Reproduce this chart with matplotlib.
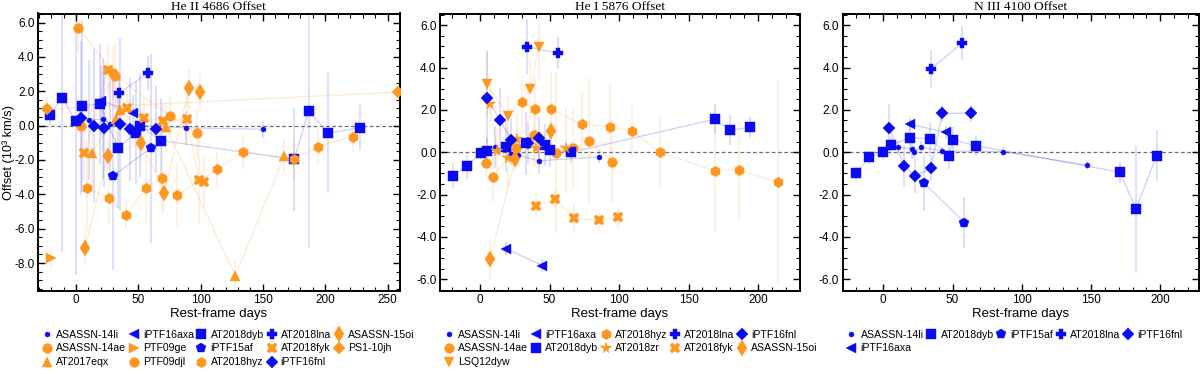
import matplotlib
matplotlib.use('Agg')
import matplotlib.pyplot as plt
from matplotlib.lines import Line2D
from matplotlib.ticker import MultipleLocator, FormatStrFormatter

# ---------------- Panel 1 : He II 4686 ----------------
p1_14li_t = [10.3, 21.4, 27.5, 88.6, 150.3]
p1_14li_v = [0.33, 0.39, 0.11, -0.13, -0.21]
p1_14li_e = [3.5, 3.5, 3.0, 1.0, 0.5]
p1_14ae_t = [4.0, 31.5, 75.4, 96.9]
p1_14ae_v = [-0.02, 2.91, 0.56, -0.44]
p1_14ae_e = [1.5, 2.0, 1.2, 1.5]
p1_17eqx_t = [12.6, 31.8, 35.6, 72.0, 127.9, 167.2]
p1_17eqx_v = [-1.57, 0.39, 0.91, -0.06, -8.75, -1.76]
p1_17eqx_e = [2.0, 1.5, 1.5, 1.5, 1.0, 1.0]
p1_16axa_t = [20.0, 45.5]
p1_16axa_v = [1.46, 0.76]
p1_16axa_e = [2.0, 1.0]
p1_09ge_t = [-20.3]
p1_09ge_v = [-7.72]
p1_09ge_e = [0.6]
p1_09djl_t = [1.9, 30.0]
p1_09djl_v = [5.7, 3.09]
p1_09djl_e = [1.5, 1.5]
p1_dyb_t = [-20.9, -11.0, -0.3, 5.1, 19.3, 33.5, 48.2, 51.4, 68.2, 175.0, 186.7, 202.5, 228.0]
p1_dyb_v = [0.62, 1.63, 0.29, 1.15, 1.26, -1.28, -0.44, 0.0, -0.87, -1.96, 0.86, -0.44, -0.12]
p1_dyb_e = [0.6, 9.0, 9.0, 5.0, 3.5, 3.5, 3.0, 3.0, 2.5, 3.0, 8.0, 3.5, 1.3]
p1_15af_t = [30.0, 60.0]
p1_15af_v = [-2.91, -1.32]
p1_15af_e = [5.5, 5.5]
p1_hyz_t = [9.1, 26.5, 39.9, 56.2, 68.8, 81.3, 113.4, 133.8, 175.0, 194.0, 222.6]
p1_hyz_v = [-3.65, -4.23, -5.2, -3.65, -3.06, -4.04, -2.54, -1.51, -1.96, -1.22, -0.64]
p1_hyz_e = [2.5, 1.5, 0.8, 2.0, 2.0, 1.8, 1.0, 1.0, 1.2, 1.0, 0.9]
p1_lna_t = [34.5, 57.5]
p1_lna_v = [1.89, 3.05]
p1_lna_e = [1.0, 1.0]
p1_fyk_t = [6.4, 25.4, 40.7, 54.8, 69.6, 88.8, 98.7, 102.7]
p1_fyk_v = [-1.61, 3.24, 1.0, 0.43, 0.29, 0.39, -3.16, -3.26]
p1_fyk_e = [1.5, 1.5, 1.2, 1.2, 1.0, 1.5, 2.5, 1.5]
p1_fnl_t = [4.0, 14.7, 22.7, 35.3, 43.3, 64.0]
p1_fnl_v = [0.45, -0.02, -0.12, 0.08, -0.21, -0.21]
p1_fnl_e = [4.5, 4.5, 3.5, 5.0, 3.0, 2.5]
p1_15oi_t = [7.2, 25.4, 52.5, 70.9, 90.7, 99.8]
p1_15oi_v = [-7.14, -1.76, -0.99, -3.9, 2.18, 1.95]
p1_15oi_e = [1.0, 1.0, 1.2, 1.0, 1.2, 1.2]
p1_10jh_t = [-23.0, 258.0]
p1_10jh_v = [0.95, 1.95]
p1_10jh_e = [0.7, 0.7]

# ---------------- Panel 2 : He I 5876 ----------------
p2_14li_t = [10.7, 22.1, 27.4, 42.1, 85.7]
p2_14li_v = [0.26, -0.08, -0.13, -0.41, -0.21]
p2_14li_e = [1.0, 0.5, 0.5, 0.6, 0.3]
p2_14ae_t = [4.3, 9.3, 26.2, 38.8, 54.8, 66.7, 78.6, 95.2]
p2_14ae_v = [-0.52, -1.17, 0.2, 0.82, -0.02, 0.2, 0.52, -0.45]
p2_14ae_e = [0.6, 1.2, 1.0, 1.5, 3.8, 2.0, 3.0, 2.0]
p2_dyw_t = [4.8, 20.2, 36.2, 42.1]
p2_dyw_v = [3.21, 1.71, 2.97, 4.98]
p2_dyw_e = [1.5, 1.0, 1.5, 1.5]
p2_16axa_t = [19.0, 44.8]
p2_16axa_v = [-4.56, -5.35]
p2_16axa_e = [0.3, 0.3]
p2_dyb_t = [-19.5, -9.5, 0.5, 5.2, 19.0, 33.3, 46.9, 50.5, 65.7, 169.0, 179.8, 194.5]
p2_dyb_v = [-1.1, -0.65, -0.05, 0.05, 0.26, 0.42, 0.34, 0.12, 0.0, 1.56, 1.05, 1.18]
p2_dyb_e = [0.6, 0.6, 0.3, 0.6, 1.2, 1.5, 1.0, 0.8, 0.5, 0.7, 0.7, 0.5]
p2_hyz_t = [30.2, 39.3, 51.2, 73.1, 93.6, 109.5, 129.3, 169.0, 186.2, 214.3]
p2_hyz_v = [2.39, 2.04, 2.03, 1.33, 1.21, 1.02, 0.0, -0.88, -0.83, -1.42]
p2_hyz_e = [1.2, 1.5, 1.8, 1.5, 2.0, 1.3, 1.6, 2.9, 2.3, 4.8]
p2_zr_t = [7.1, 12.2, 20.2, 26.7, 40.2, 61.5]
p2_zr_v = [2.26, 0.08, -0.26, 0.61, 0.19, 0.18]
p2_zr_e = [1.0, 1.0, 1.5, 1.2, 1.0, 2.0]
p2_lna_t = [33.8, 56.4]
p2_lna_v = [4.98, 4.67]
p2_lna_e = [1.3, 0.75]
p2_fyk_t = [40.0, 54.1, 67.9, 85.7, 99.3]
p2_fyk_v = [-2.53, -2.22, -3.11, -3.22, -3.07]
p2_fyk_e = [0.6, 0.5, 0.7, 0.5, 0.5]
p2_fnl_t = [4.8, 14.3, 22.6, 34.5, 42.1]
p2_fnl_v = [2.58, 1.52, 0.57, 0.45, 0.67]
p2_fnl_e = [2.2, 1.5, 1.0, 1.0, 1.0]
p2_15oi_t = [7.1, 25.5, 51.2]
p2_15oi_v = [-5.05, -0.3, 1.0]
p2_15oi_e = [1.0, 0.6, 0.5]

# ---------------- Panel 3 : N III 4100 ----------------
p3_14li_t = [10.4, 20.5, 22.4, 27.2, 42.6, 86.6, 146.8]
p3_14li_v = [0.24, 0.16, 0.03, 0.24, 0.06, 0.03, -0.6]
p3_14li_e = [0.3, 0.5, 0.3, 0.3, 0.2, 0.2, 0.2]
p3_dyb_t = [-19.9, -10.1, 0.0, 5.3, 19.3, 33.7, 47.4, 50.5, 66.7, 170.9, 182.5, 197.4]
p3_dyb_v = [-0.99, -0.24, 0.0, 0.34, 0.69, 0.63, -0.17, 0.58, 0.31, -0.94, -2.69, -0.16]
p3_dyb_e = [0.3, 0.3, 0.3, 0.4, 0.8, 0.8, 0.6, 0.6, 0.5, 0.5, 3.0, 1.2]
p3_15af_t = [29.6, 58.5]
p3_15af_v = [-1.46, -3.32]
p3_15af_e = [1.3, 1.2]
p3_lna_t = [34.4, 56.6]
p3_lna_v = [3.93, 5.14]
p3_lna_e = [0.9, 0.8]
p3_fnl_t = [4.3, 14.9, 22.9, 34.4, 42.6, 63.1]
p3_fnl_v = [1.16, -0.65, -1.12, -0.76, 1.84, 1.84]
p3_fnl_e = [1.1, 1.0, 0.8, 0.6, 0.4, 0.4]
p3_16axa_t = [19.3, 45.0]
p3_16axa_v = [1.32, 0.94]
p3_16axa_e = [0.3, 0.3]

titles = ['He II 4686 Offset', 'He I 5876 Offset', 'N III 4100 Offset']

panel1 = [('ASASSN-14li', p1_14li_t, p1_14li_v, p1_14li_e),
          ('ASASSN-14ae', p1_14ae_t, p1_14ae_v, p1_14ae_e),
          ('AT2017eqx', p1_17eqx_t, p1_17eqx_v, p1_17eqx_e),
          ('iPTF16axa', p1_16axa_t, p1_16axa_v, p1_16axa_e),
          ('PTF09ge', p1_09ge_t, p1_09ge_v, p1_09ge_e),
          ('PTF09djl', p1_09djl_t, p1_09djl_v, p1_09djl_e),
          ('AT2018dyb', p1_dyb_t, p1_dyb_v, p1_dyb_e),
          ('iPTF15af', p1_15af_t, p1_15af_v, p1_15af_e),
          ('AT2018hyz', p1_hyz_t, p1_hyz_v, p1_hyz_e),
          ('AT2018lna', p1_lna_t, p1_lna_v, p1_lna_e),
          ('AT2018fyk', p1_fyk_t, p1_fyk_v, p1_fyk_e),
          ('iPTF16fnl', p1_fnl_t, p1_fnl_v, p1_fnl_e),
          ('ASASSN-15oi', p1_15oi_t, p1_15oi_v, p1_15oi_e),
          ('PS1-10jh', p1_10jh_t, p1_10jh_v, p1_10jh_e)]
panel2 = [('ASASSN-14li', p2_14li_t, p2_14li_v, p2_14li_e),
          ('ASASSN-14ae', p2_14ae_t, p2_14ae_v, p2_14ae_e),
          ('LSQ12dyw', p2_dyw_t, p2_dyw_v, p2_dyw_e),
          ('iPTF16axa', p2_16axa_t, p2_16axa_v, p2_16axa_e),
          ('AT2018dyb', p2_dyb_t, p2_dyb_v, p2_dyb_e),
          ('AT2018hyz', p2_hyz_t, p2_hyz_v, p2_hyz_e),
          ('AT2018zr', p2_zr_t, p2_zr_v, p2_zr_e),
          ('AT2018lna', p2_lna_t, p2_lna_v, p2_lna_e),
          ('AT2018fyk', p2_fyk_t, p2_fyk_v, p2_fyk_e),
          ('iPTF16fnl', p2_fnl_t, p2_fnl_v, p2_fnl_e),
          ('ASASSN-15oi', p2_15oi_t, p2_15oi_v, p2_15oi_e)]
panel3 = [('ASASSN-14li', p3_14li_t, p3_14li_v, p3_14li_e),
          ('iPTF16axa', p3_16axa_t, p3_16axa_v, p3_16axa_e),
          ('AT2018dyb', p3_dyb_t, p3_dyb_v, p3_dyb_e),
          ('iPTF15af', p3_15af_t, p3_15af_v, p3_15af_e),
          ('AT2018lna', p3_lna_t, p3_lna_v, p3_lna_e),
          ('iPTF16fnl', p3_fnl_t, p3_fnl_v, p3_fnl_e)]

# ---------------- styles ----------------
BLUE = '#0A0AF5'
ORANGE = '#FF961E'
style = {
    'ASASSN-14li': ('o', BLUE, 3.6),
    'ASASSN-14ae': ('o', ORANGE, 7.0),
    'AT2017eqx': ('^', ORANGE, 7.0),
    'iPTF16axa': ('<', BLUE, 7.0),
    'PTF09ge': ('>', ORANGE, 7.0),
    'PTF09djl': ('o', ORANGE, 7.0),
    'AT2018dyb': ('s', BLUE, 7.0),
    'iPTF15af': ('p', BLUE, 7.0),
    'AT2018hyz': ('h', ORANGE, 7.5),
    'AT2018lna': ('P', BLUE, 7.0),
    'AT2018fyk': ('X', ORANGE, 7.5),
    'iPTF16fnl': ('D', BLUE, 6.5),
    'ASASSN-15oi': ('d', ORANGE, 8.0),
    'PS1-10jh': ('D', ORANGE, 6.5),
    'AT2018zr': ('*', ORANGE, 8.5),
    'LSQ12dyw': ('v', ORANGE, 7.0),
}

fig = plt.figure(figsize=(12, 3.74), dpi=100)
sans = ['Liberation Sans', 'DejaVu Sans']
serif = ['Liberation Serif', 'DejaVu Serif']

positions = [[38/1200, 1-291/374, 361.5/1200, 277.5/374],
             [440/1200, 1-291/374, 360/1200, 277.5/374],
             [842.7/1200, 1-291/374, 356.3/1200, 277.5/374]]
xlims = [(-30.5, 259.6), (-28.8, 230.2), (-29.3, 228.0)]
ylims = [(-9.63, 6.53), (-6.55, 6.55), (-6.55, 6.55)]
yticks = [[-8, -6, -4, -2, 0, 2, 4, 6], [-6, -4, -2, 0, 2, 4, 6], [-6, -4, -2, 0, 2, 4, 6]]
panels = [panel1, panel2, panel3]

for i, panel in enumerate(panels):
    ax = fig.add_axes(positions[i])
    ax.axhline(0, color='#707070', lw=0.9, ls=(0, (3, 2)), zorder=1)
    handles = []
    for name, t, v, e in panel:
        m, c, s = style[name]
        order = sorted(range(len(t)), key=lambda k: t[k])
        ts = [t[k] for k in order]
        vs = [v[k] for k in order]
        es = [e[k] for k in order]
        ax.errorbar(ts, vs, yerr=es, fmt='none', ecolor=c, elinewidth=1.2,
                    alpha=0.16, capsize=0, zorder=2)
        ax.plot(ts, vs, '-', color=c, lw=0.9, alpha=0.2, zorder=2)
        ax.plot(ts, vs, ls='none', marker=m, color=c, ms=s, mec=c, mew=0.3, zorder=3)
        handles.append(Line2D([], [], ls='none', marker=m, color=c, ms=s, mew=0.3))
    ax.set_xlim(*xlims[i])
    ax.set_ylim(*ylims[i])
    ax.set_yticks(yticks[i])
    ax.yaxis.set_major_formatter(FormatStrFormatter('%.1f'))
    ax.xaxis.set_major_locator(MultipleLocator(50))
    ax.xaxis.set_minor_locator(MultipleLocator(10))
    ax.yaxis.set_minor_locator(MultipleLocator(0.5))
    ax.tick_params(which='both', direction='in', top=True, right=True)
    ax.tick_params(which='major', length=5, width=1.0, labelsize=8.5, pad=2.5)
    ax.tick_params(which='minor', length=2.6, width=0.8)
    for lab in ax.get_xticklabels() + ax.get_yticklabels():
        lab.set_family(sans)
    for sp in ax.spines.values():
        sp.set_linewidth(1.4)
    ax.set_title(titles[i], family=serif, fontsize=9.6, pad=2.5)
    ax.set_xlabel('Rest-frame days', family=sans, fontsize=9.5, labelpad=1)
    if i == 0:
        ax.set_ylabel('Offset (10\u00b3 km/s)', family=sans, fontsize=9.2)
        ax.yaxis.set_label_coords(-0.065, 0.5)
    ax.legend(handles, [p[0] for p in panel], ncol=5, loc='upper left',
              bbox_to_anchor=(0.0, -0.124), borderaxespad=0, frameon=False,
              prop={'family': sans, 'size': 7.6}, handlelength=0.85,
              handletextpad=0.45, columnspacing=0.3, labelspacing=0.36,
              borderpad=0.4)

fig.savefig('out.png', dpi=100)
